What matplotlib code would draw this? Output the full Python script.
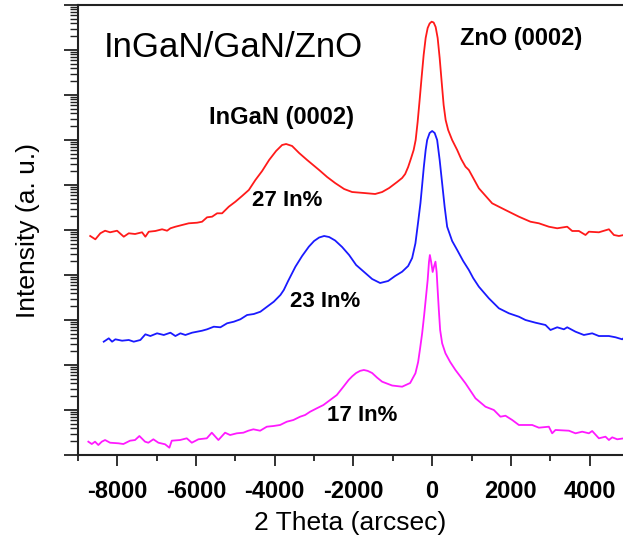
import numpy as np
import matplotlib
matplotlib.use("Agg")
import matplotlib.pyplot as plt
from matplotlib.ticker import LogLocator, NullFormatter, MultipleLocator

plt.rcParams['font.family'] = ['Liberation Sans', 'DejaVu Sans']

# ---- data (2 Theta in arcsec, intensity in log10 decades, offset curves) ----
red_x = [-8690, -8559, -8432, -8312, -8185, -8007, -7837, -7710, -7550, -7372, -7288, -7202,
         -7034, -6863, -6736, -6652, -6525, -6355, -6185, -5974, -5847, -5720, -5592, -5465,
         -5338, -5168, -5000, -4830, -4659, -4492, -4321, -4143, -3966, -3813, -3711, -3559,
         -3381, -3178, -2872, -2669, -2466, -2237, -2034, -1729, -1449, -1271, -1093, -890,
         -763, -686, -610, -534, -470, -419, -369, -318, -267, -216, -165, -114, -64, -13, 38,
         89, 140, 191, 242, 292, 343, 407, 508, 636, 737, 847, 933, 1187, 1525, 1863,
         2204, 2499, 2712, 2966, 3178, 3432, 3559, 3729, 3897, 3983, 4237, 4492, 4619, 4746, 4873]
red_logI = [4.867, 4.793, 4.927, 4.984, 4.949, 4.984, 4.851, 4.927, 4.911, 4.949, 4.851, 4.962,
            4.978, 5.016, 4.984, 5.038, 5.073, 5.111, 5.149, 5.162, 5.184, 5.282, 5.296, 5.371,
            5.371, 5.518, 5.629, 5.756, 5.889, 6.111, 6.311, 6.556, 6.756, 6.889, 6.911, 6.867,
            6.711, 6.556, 6.333, 6.178, 6.044, 5.911, 5.844, 5.822, 5.800, 5.844, 5.933, 6.067,
            6.156, 6.244, 6.400, 6.600, 6.778, 7.000, 7.400, 7.889, 8.400, 8.889, 9.267, 9.489,
            9.589, 9.629, 9.611, 9.511, 9.267, 8.822, 8.289, 7.778, 7.444, 7.222, 7.000, 6.778,
            6.578, 6.407, 6.333, 5.927, 5.593, 5.444, 5.296, 5.184, 5.149, 5.073, 5.038, 5.073,
            4.978, 4.978, 4.889, 4.962, 4.949, 5.016, 4.889, 4.867, 4.889]

blue_x = [-8346, -8218, -8134, -8050, -7880, -7710, -7583, -7415, -7288, -7161, -6991, -6820,
          -6652, -6525, -6398, -6271, -6101, -5974, -5847, -5720, -5549, -5381, -5211, -5041,
          -4873, -4703, -4532, -4365, -4194, -4024, -3856, -3770, -3660, -3475, -3305, -3134,
          -3000, -2872, -2745, -2618, -2466, -2288, -2110, -1932, -1729, -1525, -1322, -1118,
          -941, -763, -610, -508, -425, -356, -297, -254, -211, -165, -127, -64, 0, 64, 127,
          191, 254, 318, 381, 508, 636, 788, 933, 1042, 1187, 1441, 1696, 1950, 2204, 2372,
          2626, 2880, 3007, 3178, 3348, 3432, 3643, 3856, 4067, 4237, 4492, 4659, 4830, 4906]
blue_logI = [2.518, 2.593, 2.518, 2.571, 2.540, 2.556, 2.518, 2.556, 2.682, 2.644, 2.704, 2.667,
             2.718, 2.644, 2.704, 2.667, 2.718, 2.740, 2.762, 2.793, 2.851, 2.838, 2.927, 2.962,
             3.016, 3.111, 3.133, 3.184, 3.296, 3.407, 3.556, 3.667, 3.867, 4.184, 4.422, 4.629,
             4.756, 4.833, 4.867, 4.844, 4.767, 4.622, 4.444, 4.222, 4.067, 3.911, 3.822, 3.867,
             3.978, 4.073, 4.200, 4.378, 4.704, 5.178, 5.600, 6.000, 6.407, 6.778, 7.000, 7.156,
             7.200, 7.156, 7.000, 6.556, 6.038, 5.511, 5.073, 4.756, 4.556, 4.311, 4.111, 3.933,
             3.740, 3.482, 3.260, 3.149, 3.073, 3.000, 2.940, 2.889, 2.778, 2.838, 2.793, 2.838,
             2.740, 2.667, 2.704, 2.644, 2.644, 2.616, 2.571, 2.629]

mag_x = [-8737, -8650, -8567, -8483, -8396, -8312, -8185, -7974, -7847, -7677, -7550, -7440,
         -7296, -7212, -7085, -6957, -6787, -6678, -6617, -6406, -6236, -6108, -5941, -5727,
         -5600, -5432, -5262, -5135, -4965, -4797, -4670, -4543, -4372, -4202, -4034, -3864,
         -3694, -3526, -3355, -3228, -3101, -2931, -2763, -2593, -2423, -2255, -2123, -2030,
         -1932, -1830, -1736, -1640, -1525, -1400, -1271, -1017, -763, -559, -425, -356, -305,
         -254, -203, -152, -114, -81, -58, -25, 13, 51, 84, 114, 140, 170, 203, 254, 338, 458,
         592, 847, 1101, 1355, 1568, 1736, 1863, 2034, 2204, 2331, 2542, 2712, 2966, 3050,
         3134, 3475, 3643, 3813, 3983, 4067, 4237, 4405, 4492, 4576, 4703, 4873]
mag_logI = [0.296, 0.244, 0.296, 0.222, 0.296, 0.333, 0.273, 0.260, 0.244, 0.318, 0.333, 0.422,
            0.296, 0.273, 0.349, 0.273, 0.238, 0.162, 0.318, 0.333, 0.371, 0.273, 0.349, 0.371,
            0.496, 0.333, 0.496, 0.444, 0.482, 0.496, 0.540, 0.571, 0.540, 0.629, 0.644, 0.667,
            0.740, 0.778, 0.851, 0.889, 0.962, 1.038, 1.111, 1.222, 1.333, 1.518, 1.667, 1.750,
            1.822, 1.870, 1.889, 1.870, 1.822, 1.720, 1.629, 1.544, 1.518, 1.600, 1.816, 2.067,
            2.378, 2.704, 3.111, 3.556, 3.889, 4.289, 4.444, 4.289, 4.067, 4.200, 4.296, 4.067,
            3.667, 3.222, 2.778, 2.482, 2.260, 2.067, 1.889, 1.593, 1.260, 1.073, 1.000, 0.851,
            0.873, 0.778, 0.667, 0.667, 0.667, 0.607, 0.629, 0.482, 0.556, 0.540, 0.482, 0.518,
            0.482, 0.533, 0.371, 0.407, 0.333, 0.393, 0.349, 0.371]

x_ticks = [-8000, -6000, -4000, -2000, 0, 2000, 4000]

fig = plt.figure(figsize=(6.23, 5.44), dpi=100)
ax = fig.add_axes([78 / 623, 89 / 544, 545 / 623, 450 / 544])

lw = 1.3
ax.plot(red_x, 10 ** np.array(red_logI), color='#ff1a1a', lw=lw)
ax.plot(blue_x, 10 ** np.array(blue_logI), color='#1a1aff', lw=lw)
ax.plot(mag_x, 10 ** np.array(mag_logI), color='#ff1aff', lw=lw)

ax.set_yscale('log')
ax.set_ylim(1, 1e10)
ax.set_xlim(-9000, 4850)
ax.yaxis.set_major_locator(LogLocator(base=10, numticks=20))
ax.yaxis.set_minor_locator(LogLocator(base=10, subs=np.arange(2, 10), numticks=20))
ax.yaxis.set_major_formatter(NullFormatter())
ax.yaxis.set_minor_formatter(NullFormatter())

ax.set_xticks(x_ticks)
ax.xaxis.set_minor_locator(MultipleLocator(1000))
ax.set_xticklabels([str(v) for v in x_ticks], fontsize=17, fontweight='bold')

ax.tick_params(axis='both', which='major', direction='out', width=1.3, color='#222222')
ax.tick_params(axis='x', which='major', length=8, pad=10)
ax.tick_params(axis='x', which='minor', length=4.5, width=1.3, direction='out', color='#222222')
ax.tick_params(axis='y', which='major', length=10)
ax.tick_params(axis='y', which='minor', length=6, width=1.0, direction='out', color='#222222')

for s in ['left', 'bottom', 'top']:
    ax.spines[s].set_linewidth(1.5)
    ax.spines[s].set_color('#222222')
ax.spines['right'].set_visible(False)

ax.set_xlabel('2 Theta (arcsec)', fontsize=19, labelpad=6)
ax.set_ylabel('Intensity (a. u.)', fontsize=19, labelpad=14)

ax.text(-8338, 10 ** 8.84, 'InGaN/GaN/ZnO', fontsize=25, ha='left', va='baseline')
ax.text(-5669, 10 ** 7.356, 'InGaN (0002)', fontsize=17, fontweight='bold', ha='left', va='baseline')
ax.text(712, 10 ** 9.1, 'ZnO (0002)', fontsize=17, fontweight='bold', ha='left', va='baseline')
ax.text(-4576, 10 ** 5.533, '27 In%', fontsize=16, fontweight='bold', ha='left', va='baseline')
ax.text(-3610, 10 ** 3.289, '23 In%', fontsize=16, fontweight='bold', ha='left', va='baseline')
ax.text(-2669, 10 ** 0.756, '17 In%', fontsize=16, fontweight='bold', ha='left', va='baseline')

fig.savefig('out.png', dpi=100)
